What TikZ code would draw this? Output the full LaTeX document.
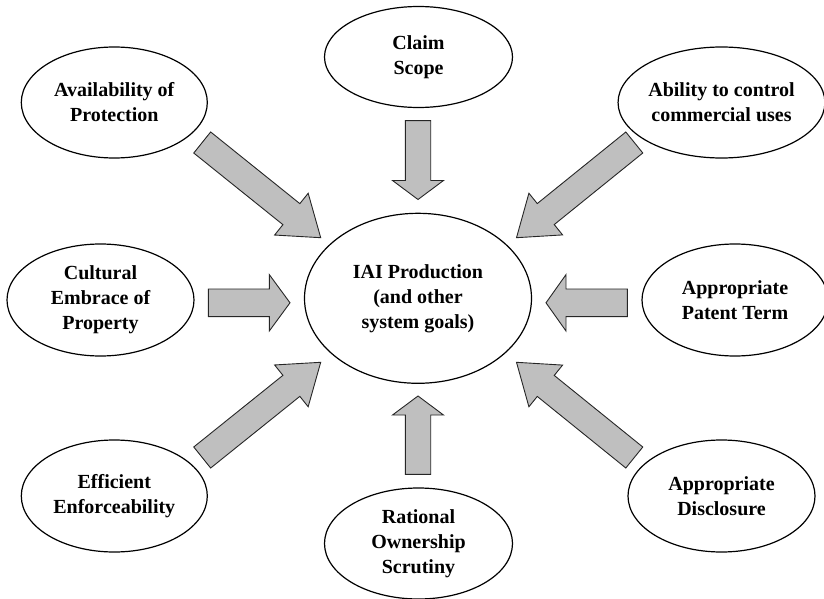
\documentclass[tikz,border=0pt]{standalone}
\usepackage{fontspec}
\setmainfont{Liberation Serif}
\usetikzlibrary{shapes.geometric,calc}
\tikzset{
  goal/.style={draw=black, line width=1.2pt, ellipse, inner sep=0pt, align=center,
    font=\fontsize{20}{25}\selectfont\bfseries},
  barrow/.style={draw=black!85, line width=0.9pt, fill=black!25, line join=miter},
}
% tail, tip, shaft half width, head half width, head length
\newcommand\blockarrow[5]{%
  \coordinate (ba-h) at ($(#2)!#5!(#1)$);
  \draw[barrow] ($(#1)!#3!90:(#2)$) -- ($(ba-h)!#3!90:(#2)$) -- ($(ba-h)!#4!90:(#2)$)
    -- (#2) -- ($(ba-h)!#4!-90:(#2)$) -- ($(ba-h)!#3!-90:(#2)$) -- ($(#1)!#3!-90:(#2)$) -- cycle;
}
\begin{document}
\begin{tikzpicture}[x=1pt,y=-1pt]
\useasboundingbox (0,0) rectangle (824,599);

\node[goal, minimum width=227pt, minimum height=170pt] (center) at (418,298.3)
  {IAI Production\\(and other\\system goals)};
\node[goal, minimum width=188pt, minimum height=101pt] (claim) at (418.5,57) {Claim\\Scope};
\node[goal, minimum width=188pt, minimum height=111pt] (rational) at (418.5,543.5) {Rational\\Ownership\\Scrutiny};
\node[goal, minimum width=186pt, minimum height=111pt] (avail) at (114.3,102.5) {Availability of\\Protection};
\node[goal, minimum width=187pt, minimum height=112pt] (cultural) at (100.5,300) {Cultural\\Embrace of\\Property};
\node[goal, minimum width=186pt, minimum height=112pt] (effic) at (114.3,496) {Efficient\\Enforceability};
\node[goal, minimum width=187pt, minimum height=111pt] (ability) at (721.5,102.5) {Ability to control\\commercial uses};
\node[goal, minimum width=186pt, minimum height=112pt] (patent) at (735,300) {Appropriate\\Patent Term};
\node[goal, minimum width=187pt, minimum height=112pt] (disclose) at (721.5,496) {Appropriate\\Disclosure};

\coordinate (a1t) at (202.2,142.5); \coordinate (a1p) at (320.7,237.7);
\coordinate (a2t) at (418,120.7); \coordinate (a2p) at (418,199.5);
\coordinate (a3t) at (634.3,142.5); \coordinate (a3p) at (516.5,237.7);
\coordinate (a4t) at (208.3,302.8); \coordinate (a4p) at (290,302.8);
\coordinate (a5t) at (627.3,302.8); \coordinate (a5p) at (546,302.8);
\coordinate (a6t) at (202.2,457.5); \coordinate (a6p) at (320.7,362.3);
\coordinate (a7t) at (418,474.3); \coordinate (a7p) at (418,396);
\coordinate (a8t) at (634.3,457.5); \coordinate (a8p) at (516.5,362.3);

\blockarrow{a1t}{a1p}{13.5pt}{26.8pt}{37.6pt}
\blockarrow{a2t}{a2p}{12.7pt}{25.5pt}{19pt}
\blockarrow{a3t}{a3p}{13.5pt}{26.8pt}{37.6pt}
\blockarrow{a4t}{a4p}{13.8pt}{28.2pt}{20.7pt}
\blockarrow{a5t}{a5p}{13.8pt}{28.2pt}{20pt}
\blockarrow{a6t}{a6p}{13.5pt}{26.8pt}{37.6pt}
\blockarrow{a7t}{a7p}{12.7pt}{25.5pt}{19pt}
\blockarrow{a8t}{a8p}{13.5pt}{26.8pt}{37.6pt}
\end{tikzpicture}
\end{document}
